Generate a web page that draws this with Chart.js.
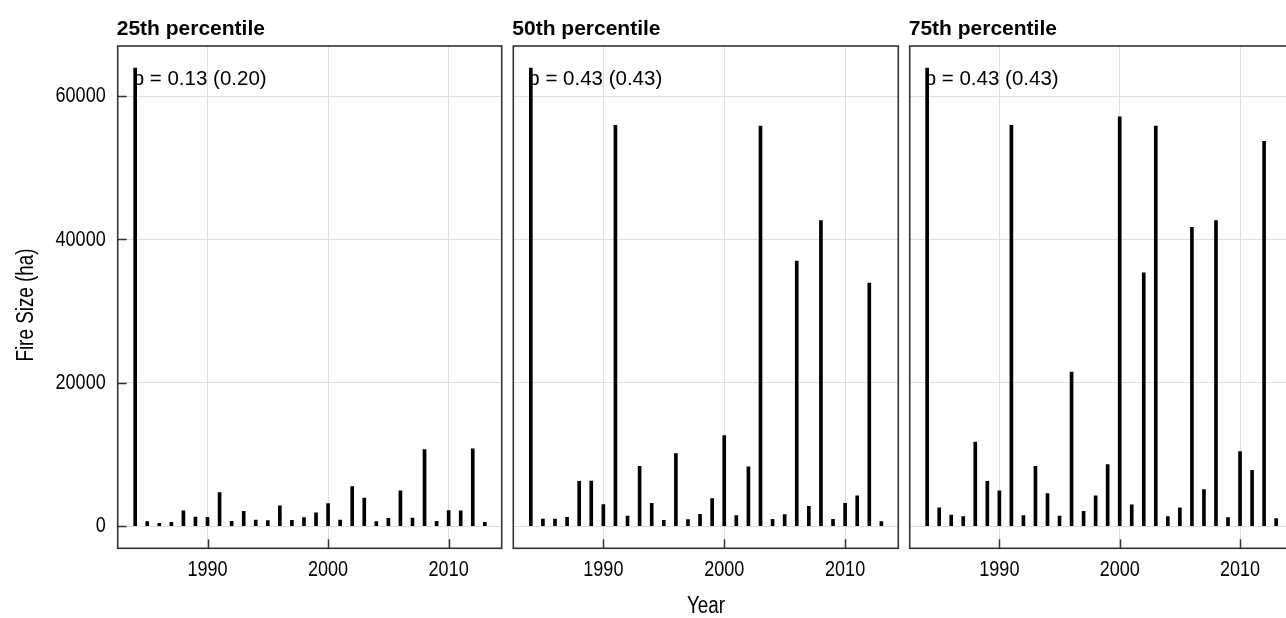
<!DOCTYPE html>
<html><head><meta charset="utf-8">
<script src="https://cdn.jsdelivr.net/npm/chart.js@4.4.1/dist/chart.umd.min.js"></script>
<style>
html,body{margin:0;padding:0;background:#fff;overflow:hidden;width:1286px;height:618px;}
canvas{position:absolute;top:0;}
</style></head>
<body>
<canvas id="c1" width="507" height="618" style="left:0px"></canvas>
<canvas id="c2" width="396" height="618" style="left:507px"></canvas>
<canvas id="c3" width="400" height="618" style="left:903px"></canvas>
<script>
const years = [1984,1985,1986,1987,1988,1989,1990,1991,1992,1993,1994,1995,1996,1997,1998,1999,2000,2001,2002,2003,2004,2005,2006,2007,2008,2009,2010,2011,2012,2013];
const p25 = [63900,650,420,560,2140,1300,1250,4700,700,2090,880,790,2840,840,1210,1860,3160,880,5530,3950,650,1120,4930,1160,10700,700,2190,2140,10790,560];
const p50 = [63900,1020,1020,1260,6280,6320,3020,55900,1440,8370,3210,840,10140,930,1670,3860,12650,1490,8280,55800,980,1630,36980,2790,42650,980,3210,4230,33900,650];
const p75 = [63900,2560,1580,1350,11760,6280,4930,55900,1490,8370,4560,1440,21490,2090,4230,8600,57110,2980,35340,55810,1350,2560,41680,5120,42650,1210,10420,7810,53680,1070];
const panelTitles = ['25th percentile','50th percentile','75th percentile'];
const pLabels = ['p = 0.13 (0.20)','p = 0.43 (0.43)','p = 0.43 (0.43)'];
const yTickValues = [0,20000,40000,60000];
const xTickValues = [1990,2000,2010];
const yAxisTitle = 'Fire Size (ha)';
const xAxisTitle = 'Year';

const SANS = "'Liberation Sans',Arial,sans-serif";
const SQUEEZE = 0.82;

function narrowText(ctx, text, x, y, align, baseline, size, rot) {
  ctx.save();
  ctx.translate(x, y);
  if (rot) ctx.rotate(rot);
  ctx.scale(SQUEEZE, 1);
  ctx.font = size + 'px ' + SANS;
  ctx.textAlign = align;
  ctx.textBaseline = baseline;
  ctx.fillText(text, 0, 0);
  ctx.restore();
}

const panelPlugin = {
  id: 'panelDecor',
  afterDatasetsDraw(chart, args, opts) {
    const ctx = chart.ctx, a = chart.chartArea;
    const xs = chart.scales.x, ys = chart.scales.y;
    ctx.save();
    // inside tick marks
    ctx.strokeStyle = '#333';
    ctx.lineWidth = 1.5;
    ctx.beginPath();
    xs.ticks.forEach(t => {
      const px = Math.round(xs.getPixelForValue(t.value)) + 0.5;
      ctx.moveTo(px, a.bottom); ctx.lineTo(px, a.bottom - 9);
    });
    if (opts.yTicks) {
      ys.ticks.forEach(t => {
        const py = Math.round(ys.getPixelForValue(t.value)) + 0.5;
        ctx.moveTo(a.left, py); ctx.lineTo(a.left + 9, py);
      });
    }
    ctx.stroke();
    // frame
    ctx.lineWidth = 1.6;
    ctx.strokeStyle = '#333';
    ctx.strokeRect(a.left, a.top, a.right - a.left, a.bottom - a.top);
    ctx.fillStyle = '#000';
    // tick labels (narrow face, positioned by the scales)
    xs.ticks.forEach(t => {
      narrowText(ctx, String(t.value), xs.getPixelForValue(t.value), 569.5, 'center', 'middle', 22);
    });
    if (opts.yTicks) {
      ys.ticks.forEach(t => {
        narrowText(ctx, String(t.value), a.left - 12, ys.getPixelForValue(t.value), 'right', 'middle', 22);
      });
    }
    // panel title
    ctx.font = 'bold 21px ' + SANS;
    ctx.textBaseline = 'alphabetic';
    ctx.textAlign = 'left';
    ctx.fillText(opts.title, a.left - 1, 35);
    // p annotation
    ctx.font = '20.5px ' + SANS;
    ctx.fillText(opts.pLabel, a.left + 15, 84.5);
    // axis titles
    if (opts.yTitle) {
      narrowText(ctx, opts.yTitle, 33, 305, 'center', 'alphabetic', 23, -Math.PI / 2);
    }
    if (opts.xTitle) {
      narrowText(ctx, opts.xTitle, opts.xTitleX, 613, 'center', 'alphabetic', 23);
    }
    ctx.restore();
  }
};

function makePanel(id, values, idx, cfg) {
  new Chart(document.getElementById(id), {
    type: 'bar',
    data: {
      datasets: [{
        data: years.map((yr, i) => ({x: yr, y: values[i]})),
        backgroundColor: '#000',
        borderWidth: 0,
        barThickness: 3
      }]
    },
    options: {
      responsive: false,
      animation: false,
      layout: {padding: {left: 0, right: cfg.padRight, top: 46, bottom: 0}},
      plugins: {
        legend: {display: false},
        tooltip: {enabled: false},
        panelDecor: {
          title: panelTitles[idx], pLabel: pLabels[idx],
          yTicks: cfg.yTicks, yTitle: cfg.yTitle, xTitle: cfg.xTitle, xTitleX: cfg.xTitleX
        }
      },
      scales: {
        x: {
          type: 'linear',
          offset: false,
          min: 1982.55, max: 2014.4,
          afterBuildTicks: s => { s.ticks = xTickValues.map(v => ({value: v})); },
          afterFit: s => { s.height = 69.7; },
          grid: {color: '#dedede', lineWidth: 1, drawTicks: false, offset: false},
          border: {display: false},
          ticks: {display: false}
        },
        y: {
          min: -3070, max: 66980,
          afterBuildTicks: s => { s.ticks = yTickValues.map(v => ({value: v})); },
          afterFit: s => { s.width = cfg.yWidth; },
          grid: {color: '#dedede', lineWidth: 1, drawTicks: false},
          border: {display: false},
          ticks: {display: false}
        }
      }
    },
    plugins: [panelPlugin]
  });
}

makePanel('c1', p25, 0, {padRight: 5.3, yWidth: 117.7, yTicks: true, yTitle: yAxisTitle});
makePanel('c2', p50, 1, {padRight: 4.7, yWidth: 6.3, yTicks: false, xTitle: xAxisTitle, xTitleX: 706 - 507});
makePanel('c3', p75, 2, {padRight: 10, yWidth: 6.7, yTicks: false});
</script>
</body></html>
